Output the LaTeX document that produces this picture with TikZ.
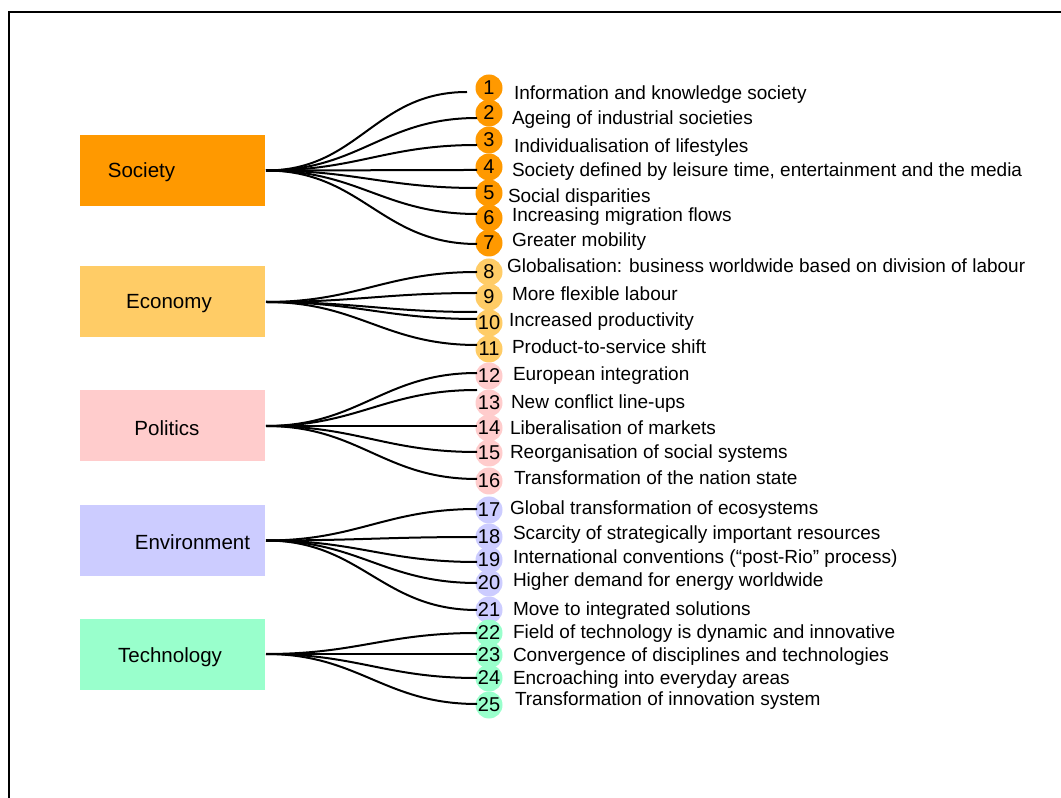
\documentclass[tikz,border=0pt]{standalone}
\usepackage{fontspec}
\setmainfont{Liberation Sans}
\definecolor{socfill}{HTML}{FF9900}
\definecolor{ecofill}{HTML}{FFCC66}
\definecolor{polfill}{HTML}{FFCCCC}
\definecolor{envfill}{HTML}{CCCCFF}
\definecolor{tecfill}{HTML}{99FFCC}
\begin{document}
\begin{tikzpicture}[x=0.75pt, y=-0.75pt, line width=1.5pt,
  cat node/.style={rectangle,minimum width=138.75pt,minimum height=53.25pt,inner sep=0pt},
  cat label/.style={inner sep=0pt,font=\fontsize{15.4}{18}\selectfont},
  num node/.style={circle,minimum size=20.25pt,inner sep=0pt,font=\fontsize{15}{17}\selectfont},
  item node/.style={anchor=west,inner sep=0pt,text height=10.2pt,text depth=0pt,font=\fontsize{14.25}{17}\selectfont}]
\useasboundingbox (0,0) rectangle (1061,798);
\draw (9,810) -- (9,12) -- (1070,12);
\begin{scope}
\node[cat node,fill=socfill] (soc) at (172.5,170.5) {};
\node[cat node,fill=ecofill] (eco) at (172.5,302) {};
\node[cat node,fill=polfill] (pol) at (172.5,426) {};
\node[cat node,fill=envfill] (env) at (172.5,540.5) {};
\node[cat node,fill=tecfill] (tec) at (172.5,654) {};
\node[cat label] (socl) at (141.5,172) {Society};
\node[cat label] (ecol) at (169,304) {Economy};
\node[cat label] (poll) at (167,428) {Politics};
\node[cat label] (envl) at (192.5,542) {Environment};
\node[cat label] (tecl) at (170,657) {Technology};
\end{scope}
\begin{scope}
\node[num node,fill=socfill] (n1) at (489,88) {1};
\node[num node,fill=socfill] (n2) at (489,113) {2};
\node[num node,fill=socfill] (n3) at (489,140) {3};
\node[num node,fill=socfill] (n4) at (489,167) {4};
\node[num node,fill=socfill] (n5) at (489,193) {5};
\node[num node,fill=socfill] (n6) at (489,218) {6};
\node[num node,fill=socfill] (n7) at (489,243) {7};
\node[num node,fill=ecofill] (n8) at (489,272) {8};
\node[num node,fill=ecofill] (n9) at (489,297) {9};
\node[num node,fill=ecofill] (n10) at (489,323) {10};
\node[num node,fill=ecofill] (n11) at (489,349) {11};
\node[num node,fill=polfill] (n12) at (489,376) {12};
\node[num node,fill=polfill] (n13) at (489,403) {13};
\node[num node,fill=polfill] (n14) at (489,428) {14};
\node[num node,fill=polfill] (n15) at (489,453) {15};
\node[num node,fill=polfill] (n16) at (489,481) {16};
\node[num node,fill=envfill] (n17) at (489,510) {17};
\node[num node,fill=envfill] (n18) at (489,537) {18};
\node[num node,fill=envfill] (n19) at (489,560) {19};
\node[num node,fill=envfill] (n20) at (489,583) {20};
\node[num node,fill=envfill] (n21) at (489,610) {21};
\node[num node,fill=tecfill] (n22) at (489,633) {22};
\node[num node,fill=tecfill] (n23) at (489,655) {23};
\node[num node,fill=tecfill] (n24) at (489,678) {24};
\node[num node,fill=tecfill] (n25) at (489,705) {25};
\end{scope}
\begin{scope}
\node[item node] (t1) at (513,93) {Information and knowledge society};
\node[item node] (t2) at (511,118) {Ageing of industrial societies};
\node[item node] (t3) at (513,146) {Individualisation of lifestyles};
\node[item node] (t4) at (511,170) {Society defined by leisure time, entertainment and the media};
\node[item node] (t5) at (507,196) {Social disparities};
\node[item node] (t6) at (511,215) {Increasing migration flows};
\node[item node] (t7) at (511,240) {Greater mobility};
\node[item node] (t8) at (506,266) {Globalisation: business worldwide based on division of labour};
\node[item node] (t9) at (511,294) {More flexible labour};
\node[item node] (t10) at (508,320) {Increased productivity};
\node[item node] (t11) at (511,347) {Product-to-service shift};
\node[item node] (t12) at (512,374) {European integration};
\node[item node] (t13) at (510,402) {New conflict line-ups};
\node[item node] (t14) at (509,428) {Liberalisation of markets};
\node[item node] (t15) at (509,452) {Reorganisation of social systems};
\node[item node] (t16) at (513,478) {Transformation of the nation state};
\node[item node] (t17) at (509,508) {Global transformation of ecosystems};
\node[item node] (t18) at (512,533) {Scarcity of strategically important resources};
\node[item node] (t19) at (512,557) {International conventions (“post-Rio” process)};
\node[item node] (t20) at (512,580) {Higher demand for energy worldwide};
\node[item node] (t21) at (512,609) {Move to integrated solutions};
\node[item node] (t22) at (512,632) {Field of technology is dynamic and innovative};
\node[item node] (t23) at (512,655) {Convergence of disciplines and technologies};
\node[item node] (t24) at (512,678) {Encroaching into everyday areas};
\node[item node] (t25) at (514,699) {Transformation of innovation system};
\end{scope}
\begin{scope}
\coordinate (e1) at (467,92);
\coordinate (e2) at (477,118);
\coordinate (e3) at (477,145);
\coordinate (e4) at (477,170);
\coordinate (e5) at (477,188);
\coordinate (e6) at (477,214);
\coordinate (e7) at (477,244);
\coordinate (e8) at (477,272);
\coordinate (e9) at (477,293);
\coordinate (e10a) at (477,312);
\coordinate (e10) at (477,319);
\coordinate (e11) at (477,345);
\coordinate (e12) at (477,373);
\coordinate (e13) at (477,390);
\coordinate (e14) at (477,426);
\coordinate (e15) at (477,452);
\coordinate (e16) at (477,479);
\coordinate (e17) at (477,509);
\coordinate (e18) at (477,537);
\coordinate (e19) at (477,562);
\coordinate (e20) at (477,583);
\coordinate (e21) at (477,610);
\coordinate (e22) at (477,633);
\coordinate (e23) at (477,654);
\coordinate (e24) at (477,678);
\coordinate (e25) at (477,704);
\end{scope}
\begin{scope}[looseness=1.1]
\draw (soc.east) to[out=0,in=180] (e1);
\draw (soc.east) to[out=0,in=180] (e2);
\draw (soc.east) to[out=0,in=180] (e3);
\draw (soc.east) to[out=0,in=180] (e4);
\draw (soc.east) to[out=0,in=180] (e5);
\draw (soc.east) to[out=0,in=180] (e6);
\draw (soc.east) to[out=0,in=180] (e7);
\draw (eco.east) to[out=0,in=180] (e8);
\draw (eco.east) to[out=0,in=180] (e9);
\draw (eco.east) to[out=0,in=180] (e10a);
\draw (eco.east) to[out=0,in=180] (e10);
\draw (eco.east) to[out=0,in=180] (e11);
\draw (pol.east) to[out=0,in=180] (e12);
\draw (pol.east) to[out=0,in=180] (e13);
\draw (pol.east) to[out=0,in=180] (e14);
\draw (pol.east) to[out=0,in=180] (e15);
\draw (pol.east) to[out=0,in=180] (e16);
\draw (env.east) to[out=0,in=180] (e17);
\draw (env.east) to[out=0,in=180] (e18);
\draw (env.east) to[out=0,in=180] (e19);
\draw (env.east) to[out=0,in=180] (e20);
\draw (env.east) to[out=0,in=180] (e21);
\draw (tec.east) to[out=0,in=180] (e22);
\draw (tec.east) to[out=0,in=180] (e23);
\draw (tec.east) to[out=0,in=180] (e24);
\draw (tec.east) to[out=0,in=180] (e25);
\end{scope}
\end{tikzpicture}
\end{document}
